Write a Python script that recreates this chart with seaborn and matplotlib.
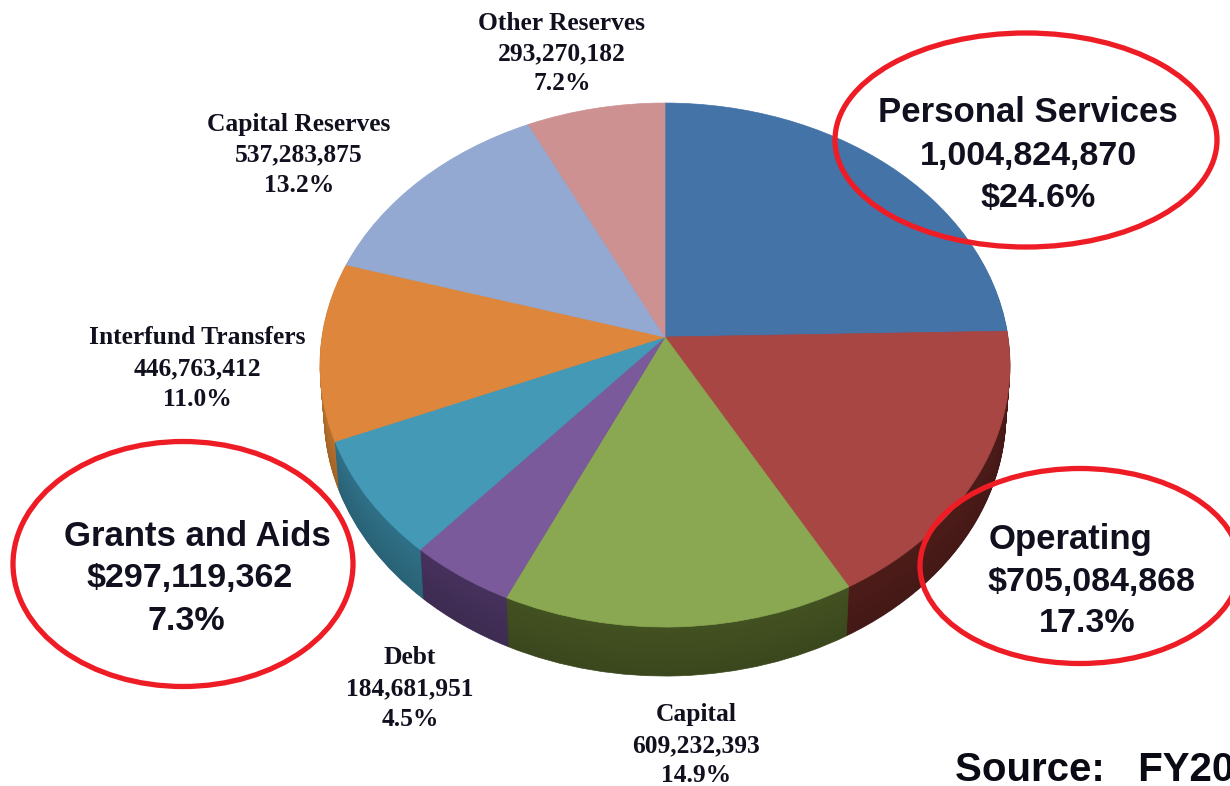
import numpy as np
import seaborn as sns
import matplotlib
matplotlib.use('Agg')
import matplotlib.pyplot as plt
from matplotlib.patches import Ellipse
from matplotlib.transforms import Affine2D, Transform

# budget slices, clockwise from 12 o'clock
names = ['Personal Services', 'Operating', 'Capital', 'Debt', 'Grants and Aids',
         'Interfund Transfers', 'Capital Reserves', 'Other Reserves']
amounts = [1004824870, 705084868, 609232393, 184681951, 297119362,
           446763412, 537283875, 293270182]
amount_labels = ['1,004,824,870', '$705,084,868', '609,232,393', '184,681,951',
                 '$297,119,362', '446,763,412', '537,283,875', '293,270,182']
pct_labels = ['$24.6%', '17.3%', '14.9%', '4.5%', '7.3%', '11.0%', '13.2%', '7.2%']

top_colors = ['#4473A8', '#A84644', '#8AA851', '#7B5A9B', '#4499B6', '#DE873C', '#93A9D2', '#CE9191']
side_colors = ['#2C4A70', '#4B1B18', '#414F20', '#44305A', '#2E6D83', '#B56E2C', '#61708C', '#8A6060']

# label placement in image pixels: centre x of each line, y of first line, line step
label_x = [(1028, 1028, 1038), (1071, 1091, 1087), (696, 696, 696), (410, 410, 410),
           (197, 190, 186), (197, 197, 197), (299, 299, 299), (562, 562, 562)]
label_y = [113, 540, 715, 658, 536, 338, 124, 23.5]
label_step = [43, 42, 30.5, 30.5, 43, 30.5, 30.5, 30]
circled = ['Personal Services', 'Operating', 'Grants and Aids']

rings = [(1026, 140, 382, 214), (1080, 566, 320, 195), (183, 564, 340, 245)]


class Tilt(Transform):
    # perspective view of the unit circle, near edge larger, result in image pixels
    input_dims = 2
    output_dims = 2
    is_affine = False

    def transform_non_affine(self, values):
        values = np.asarray(values)
        w = 1 + 0.107 * values[:, 1]
        return np.column_stack((665 + 343 * values[:, 0] / w,
                                337 - 259 * values[:, 1] / w))


sns.set_theme(style='white')
plt.rcParams['font.family'] = ['Liberation Sans', 'DejaVu Sans']

fig = plt.figure(figsize=(12.3, 7.86), dpi=100)
ax = fig.add_axes([0, 0, 1, 1])

# side wall: same pie repeated downwards, narrowing a little and getting darker
side_rgb = np.array(sns.color_palette(side_colors))
for depth in range(49, 0, -1):
    shade = side_rgb * (1.03 - 0.13 * depth / 49)
    wedges, _ = ax.pie(amounts, colors=np.clip(shade, 0, 1), startangle=90,
                       counterclock=False, wedgeprops={'linewidth': 0.5})
    shift = (Affine2D().translate(-665, -337).scale(1 - 0.012 * depth / 49, 1)
             .translate(665, 337 + depth))
    for w in wedges:
        w.set_edgecolor(w.get_facecolor())
        w.set_transform(Tilt() + shift + ax.transData)

wedges, _ = ax.pie(amounts, colors=sns.color_palette(top_colors), startangle=90,
                   counterclock=False, wedgeprops={'linewidth': 0.5})
for w in wedges:
    w.set_edgecolor(w.get_facecolor())
    w.set_transform(Tilt() + ax.transData)

ax.set_aspect('auto')
ax.set_xlim(0, 1230)
ax.set_ylim(786, 0)
ax.axis('off')

for i, name in enumerate(names):
    lines = [name, amount_labels[i], pct_labels[i]]
    big = name in circled
    for j, line in enumerate(lines):
        ax.text(label_x[i][j], label_y[i] + j * label_step[i], line,
                ha='center', va='center', color='#10101E',
                fontsize=(25 if j == 0 else 24.5) if big else 18.4, fontweight='bold',
                family='Liberation Sans' if big else 'Liberation Serif')

for cx, cy, width, height in rings:
    ax.add_patch(Ellipse((cx, cy), width, height, fill=False, edgecolor='#EE1C25',
                         linewidth=3.8, clip_on=True))

# runs off the right edge in the reference too
ax.text(955, 770, 'Source:   FY20', ha='left', va='center', color='#0A0A14',
        fontsize=29, fontweight='bold', family='Liberation Sans')

fig.savefig('out.png', dpi=100, facecolor='white')
